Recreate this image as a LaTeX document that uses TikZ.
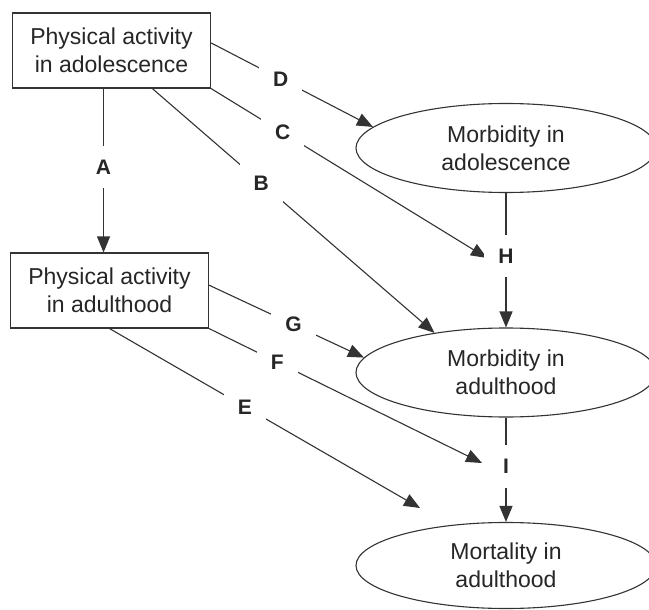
\documentclass[tikz,border=0pt]{standalone}
\usepackage{fontspec}
\setmainfont{Liberation Sans}
\usetikzlibrary{arrows.meta,shapes.geometric,calc}
\begin{document}
\begin{tikzpicture}[x=1pt,y=-1pt,
  txt/.style={text=black!85, font=\fontsize{23}{28}\selectfont},
  boxnode/.style={txt, draw=black!80, line width=1.1pt, minimum width=198pt, minimum height=75pt, inner sep=0pt, align=center},
  ellnode/.style={txt, ellipse, draw=black!80, line width=1.1pt, minimum width=300pt, minimum height=89pt, inner sep=0pt, align=center},
  conn/.style={draw=black!80, line width=1.1pt, -{Triangle[length=16pt,width=13pt]}},
  plain/.style={draw=black!80, line width=1.1pt},
  lab/.style={fill=white, inner sep=14pt, text=black!85, font=\fontsize{21}{24}\selectfont\bfseries}
]
\useasboundingbox[fill=white] (0,0) rectangle (649,610);

% nodes
\node[boxnode] (b1) at (111.5,50.5) {Physical activity\\in adolescence};
\node[boxnode] (b2) at (109.5,290.5) {Physical activity\\in adulthood};
\node[ellnode] (e1) at (506,148) {Morbidity in\\adolescence};
\node[ellnode] (e2) at (506,372.5) {Morbidity in\\adulthood};
\node[ellnode, minimum height=86pt] (e3) at (506,565.5) {Mortality in\\adulthood};

% free ends
\coordinate (cend) at (487,258);
\coordinate (fend) at (482,463);
\coordinate (eend) at (420,508);

% start points on boxes
\coordinate (aS) at ($(b1.south west)!0.46!(b1.south east)$);
\coordinate (bS) at ($(b1.south west)!0.705!(b1.south east)$);
\coordinate (dS) at ($(b1.north east)!0.4!(b1.south east)$);
\coordinate (gS) at ($(b2.north east)!0.43!(b2.south east)$);

% connectors
\draw[conn] (aS) -- node[lab, pos=0.48] {A} (aS |- b2.north);
\draw[conn] (dS) -- node[lab, pos=0.43] {D} (e1.171);
\draw[conn] (b1.south east) -- node[lab, pos=0.26] {C} (cend);
\draw[conn] (bS) -- node[lab, pos=0.386] {B} (e2.151);
\draw[conn] (e1.south) -- node[lab, pos=0.47] {H} (e2.north);
\draw[conn] (gS) -- node[lab, pos=0.545] {G} (e2.174);
\draw[conn] (b2.south east) -- node[lab, pos=0.25] {F} (fend);
\draw[conn] (b2.south) -- node[lab, pos=0.436] {E} (eend);
\draw[conn] (e2.south) -- node[lab, pos=0.47] {I} (e3.north);
\end{tikzpicture}
\end{document}
